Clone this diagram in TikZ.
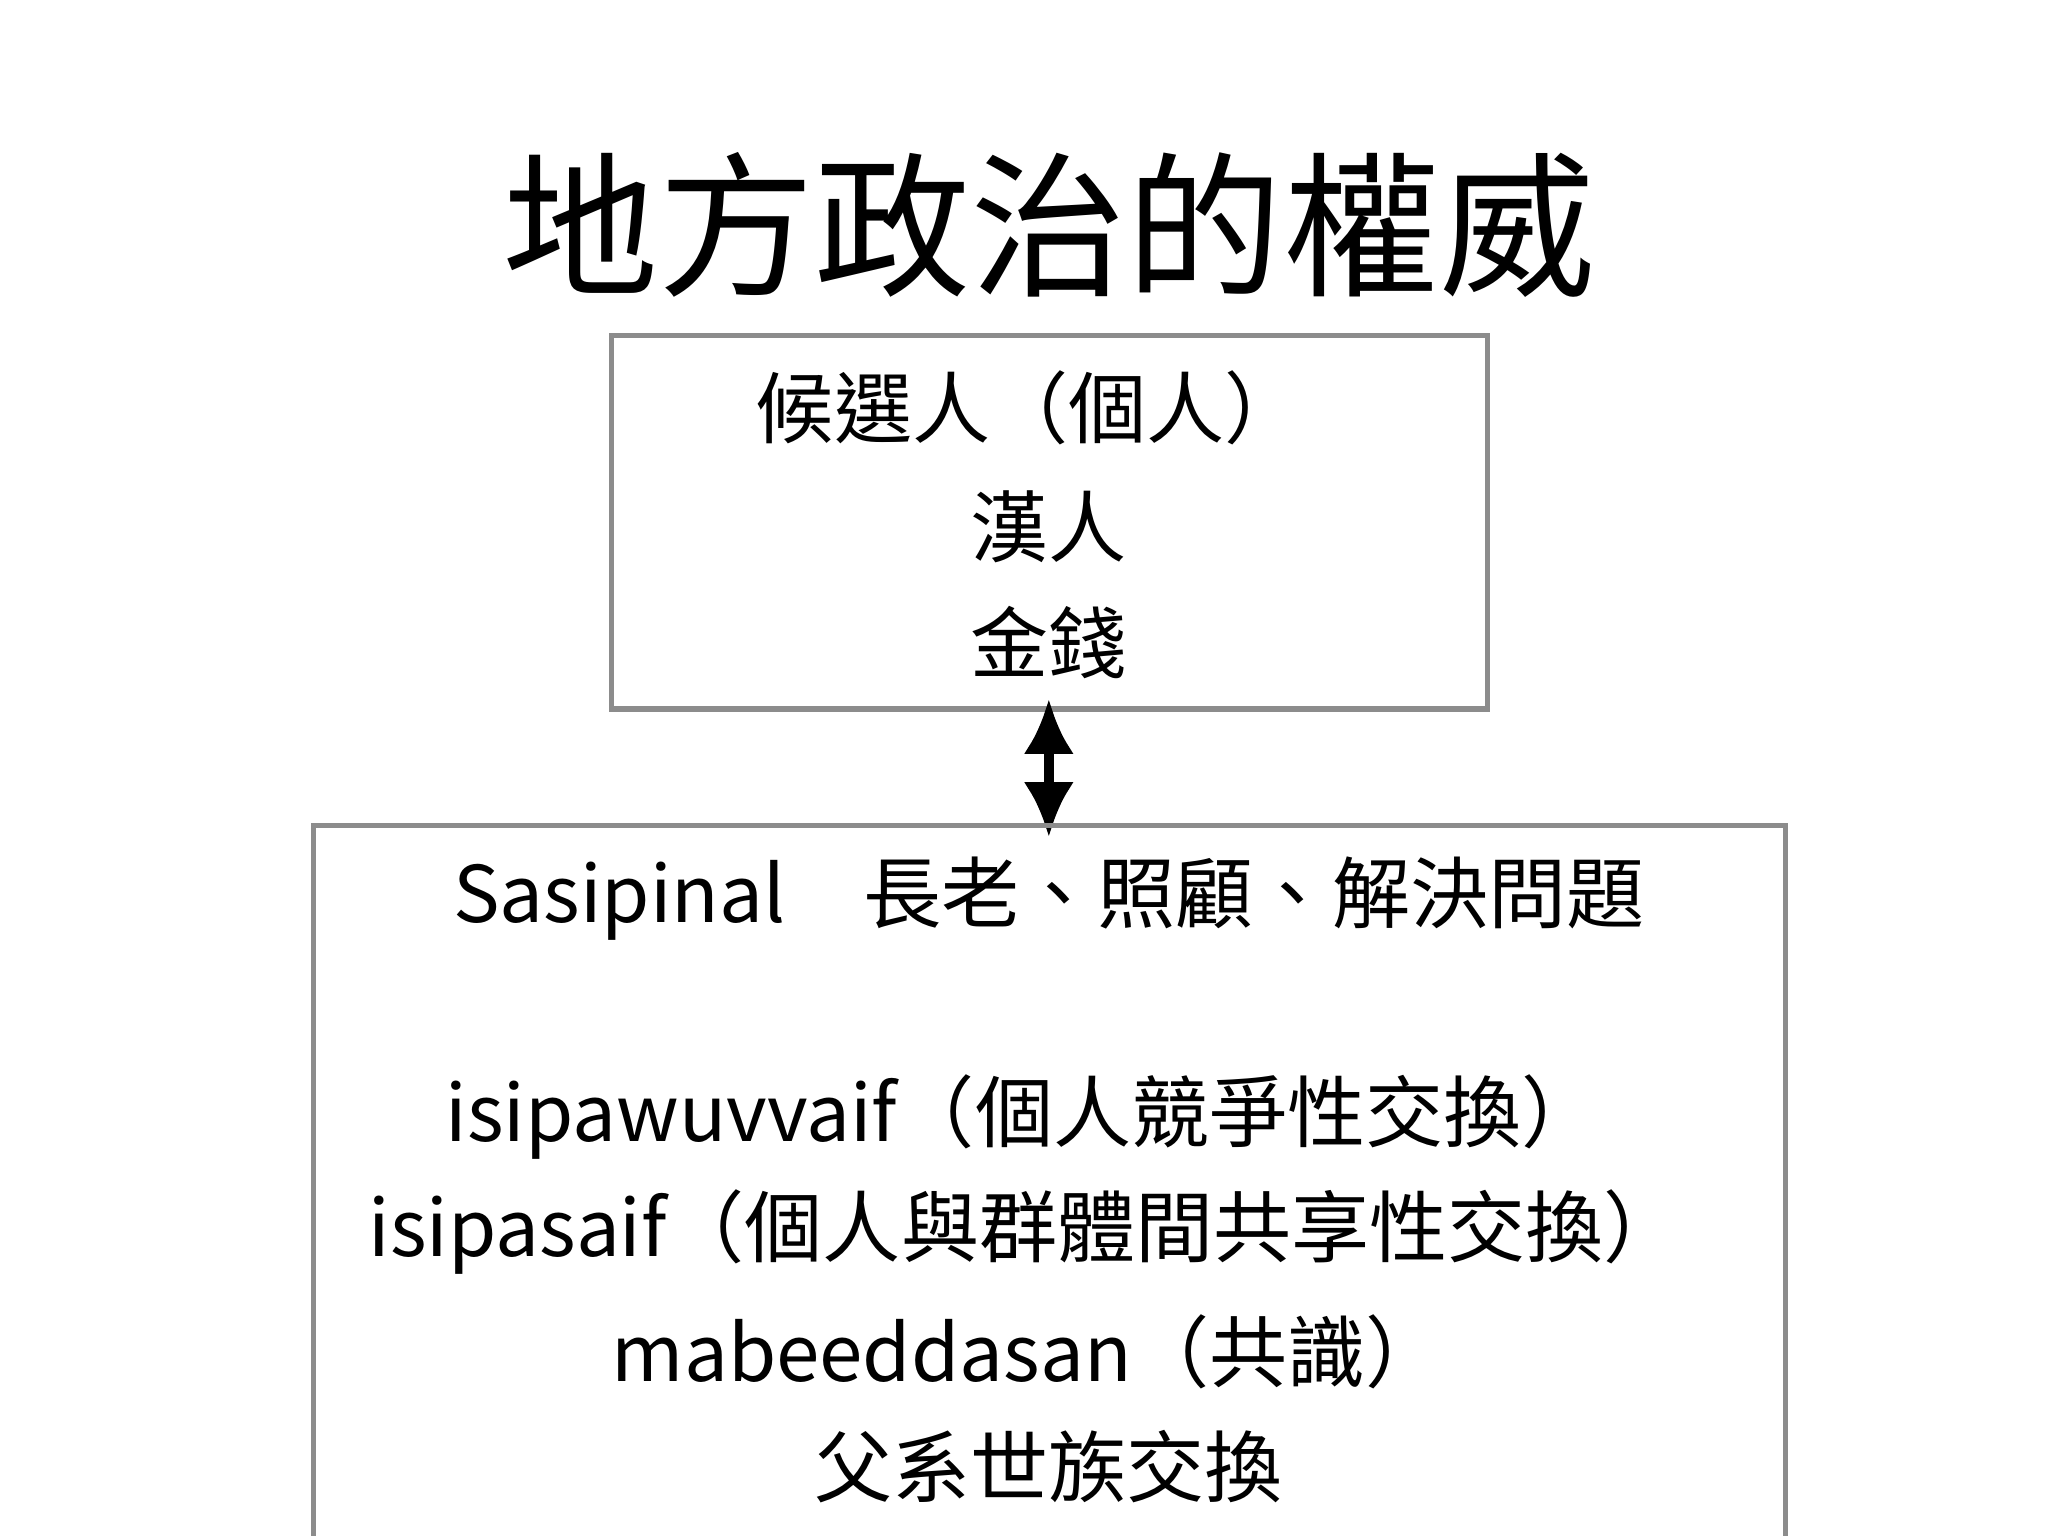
\documentclass[tikz,border=0pt]{standalone}
\usepackage{fontspec}
\setmainfont{Noto Sans CJK TC}
\usetikzlibrary{arrows.meta}
\begin{document}
\begin{tikzpicture}[x=0.01cm,y=-0.01cm,
  box/.style={draw=black!45,line width=1.2pt},
  txt/.style={font=\fontsize{17}{20}\selectfont,anchor=center,inner sep=0}]
\useasboundingbox (0,0) rectangle (1568,1176);
\node[font=\fontsize{34}{40}\selectfont,inner sep=0] (title) at (803,172) {地方政治的權威};
\draw[box] (468,257) rectangle (1139,543);
\node[txt] (t1) at (788,312) {候選人（個人）};
\node[txt] (t2) at (803,403) {漢人};
\node[txt] (t3) at (803,492) {金錢};
\coordinate (a) at (803,535);
\coordinate (b) at (803,641);
\draw[line width=2.2pt,{Latex[length=12pt,width=11pt]}-{Latex[length=12pt,width=11pt]}] (a) -- (b);
\draw[box] (240,1180) -- (240,632) -- (1367,632) -- (1367,1180);
\node[txt] (b1) at (803,688) {Sasipinal\hspace{1em}長老、照顧、解決問題};
\node[txt] (b2) at (783,855) {isipawuvvaif（個人競爭性交換）};
\node[txt] (b3) at (785,943) {isipasaif（個人與群體間共享性交換）};
\node[txt] (b4) at (787,1035) {mabeeddasan（共識）};
\node[txt] (b5) at (803,1123) {父系世族交換};
\end{tikzpicture}
\end{document}
